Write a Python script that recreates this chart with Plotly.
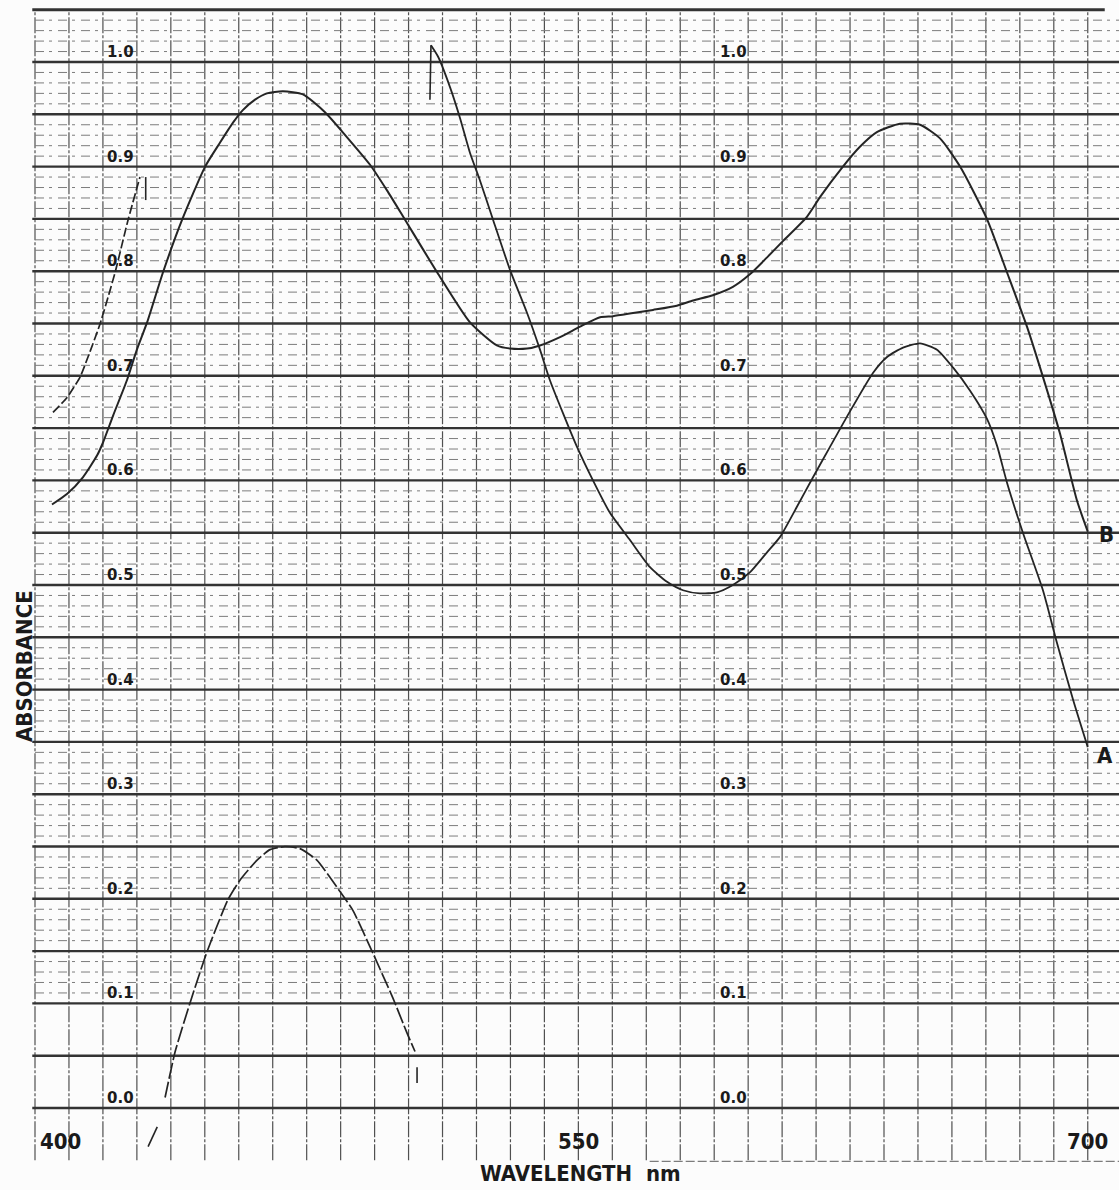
import plotly.graph_objects as go

# ---- recorded spectra (wavelength in nm, absorbance) ----
# Curve B
wl_b = [395.0, 399.4, 404.1, 408.3, 410.0, 413.0, 417.1, 420.0, 423.0, 427.7,
        433.3, 440.1, 444.5, 448.3, 451.2, 454.8, 458.3, 463.0, 468.9, 475.4,
        481.9, 488.6, 493.7, 499.0, 508.4, 518.1, 526.0, 529.9, 534.9, 538.7,
        544.6, 550.5, 556.4, 560.2, 566.1, 572.0, 579.0, 583.8, 589.6, 595.5,
        600.5, 605.5, 610.3, 617.3, 621.2, 627.9, 632.9, 637.9, 644.7, 650.6,
        656.5, 662.4, 670.3, 676.2, 682.1, 686.8, 691.8, 696.8, 700.0]
abs_b = [0.577, 0.587, 0.603, 0.624, 0.636, 0.662, 0.696, 0.725, 0.751, 0.799,
         0.849, 0.900, 0.923, 0.942, 0.954, 0.964, 0.970, 0.972, 0.969, 0.952,
         0.928, 0.902, 0.877, 0.849, 0.799, 0.751, 0.729, 0.726, 0.726, 0.729,
         0.737, 0.747, 0.756, 0.757, 0.760, 0.763, 0.767, 0.772, 0.777, 0.785,
         0.797, 0.813, 0.829, 0.852, 0.871, 0.900, 0.919, 0.933, 0.941, 0.940,
         0.927, 0.900, 0.850, 0.799, 0.747, 0.699, 0.645, 0.581, 0.551]

# Curve A, first part on the 0-1 range
wl_a_left = [395.3, 399.4, 403.3, 409.1, 413.6, 417.4, 420.9]
abs_a_left = [0.665, 0.679, 0.699, 0.749, 0.799, 0.849, 0.890]

# Curve A while off scale, written on the offset range (reading = A - 1.0)
wl_a_over = [428.3, 431.2, 435.6, 440.6, 446.8, 450.4, 455.4, 459.2, 463.6,
             468.0, 473.0, 479.8, 483.6, 489.5, 495.4, 499.5, 501.9]
abs_a_over = [0.010, 0.053, 0.100, 0.149, 0.199, 0.218, 0.237, 0.247, 0.250,
              0.248, 0.237, 0.207, 0.189, 0.148, 0.105, 0.072, 0.054]

# Curve A back on the 0-1 range
wl_a = [506.6, 508.7, 512.2, 515.1, 518.1, 521.0, 524.9, 529.9, 534.9, 538.7,
        541.6, 545.5, 549.6, 554.3, 559.3, 565.2, 571.1, 576.1, 580.8, 585.8,
        590.8, 595.5, 600.5, 605.5, 609.4, 614.4, 619.1, 624.1, 629.1, 636.8,
        640.9, 645.6, 650.6, 655.6, 660.3, 665.3, 670.3, 673.3, 676.2, 680.9,
        686.8, 690.9, 695.7, 700.0]
abs_a = [1.016, 1.005, 0.976, 0.947, 0.913, 0.887, 0.849, 0.801, 0.760, 0.725,
         0.696, 0.664, 0.632, 0.600, 0.569, 0.543, 0.517, 0.503, 0.495, 0.492,
         0.493, 0.500, 0.512, 0.531, 0.546, 0.575, 0.603, 0.632, 0.661, 0.703,
         0.718, 0.727, 0.731, 0.725, 0.708, 0.686, 0.659, 0.633, 0.598, 0.550,
         0.495, 0.445, 0.390, 0.345]

# short pen strokes made when the range switched
pen_marks = [
    ([422.6, 422.6], [0.890, 0.868]),
    ([423.3, 426.0], [-0.037, -0.018]),
    ([502.5, 502.5], [0.039, 0.024]),
    ([506.3, 506.6], [0.964, 1.016]),
]

# ---- chart paper ----
abs_labels = ["0.0", "0.1", "0.2", "0.3", "0.4", "0.5", "0.6", "0.7", "0.8", "0.9", "1.0"]
label_columns_nm = [410.6, 591.0]
wl_labels = ["400", "550", "700"]
wl_label_pos = [397.5, 550.0, 700.0]

WL_START, WL_END = 390.0, 700.0
PX_PER_NM = 3.396
PX_PER_ABS = 1046.0
W, H = 1119, 1190
X0_PX, Y0_PX = 35.0, 1108.0          # pixel position of 390 nm / 0.0 absorbance

x_range = [WL_START - X0_PX / PX_PER_NM, WL_START + (W - X0_PX) / PX_PER_NM]
y_range = [-(H - Y0_PX) / PX_PER_ABS, Y0_PX / PX_PER_ABS]

ink = "#242424"
grid_dark = "#333333"
grid_mid = "#505050"
grid_light = "#7c7c7c"

shapes = []
# vertical rulings every 10 nm
for k in range(32):
    xv = WL_START + 10 * k
    shapes.append(dict(type="line", xref="x", yref="y", x0=xv, x1=xv,
                       y0=-0.05, y1=1.05, layer="below",
                       line=dict(color=grid_mid, width=1.2, dash="16px,2px,3px,2px")))
# fine horizontal rulings every 0.01
for i in range(11, 105):
    if i % 5 == 0:
        continue
    yv = i / 100
    shapes.append(dict(type="line", xref="x", yref="y", x0=WL_START, x1=x_range[1],
                       y0=yv, y1=yv, layer="below",
                       line=dict(color=grid_light, width=1, dash="9px,5px,3px,6px")))
# heavy horizontal rulings every 0.05
for k in range(22):
    yv = k * 0.05
    x_end = x_range[1] if k < 21 else 705.0
    shapes.append(dict(type="line", xref="x", yref="y", x0=WL_START - 0.8, x1=x_end,
                       y0=yv, y1=yv, layer="below",
                       line=dict(color=grid_dark, width=2.4 if k < 21 else 3.0)))
# faint bottom edge of the paper
shapes.append(dict(type="line", xref="x", yref="y", x0=571.0, x1=x_range[1],
                   y0=-0.051, y1=-0.051, layer="below",
                   line=dict(color=grid_light, width=1.2, dash="9px,3px")))

fig = go.Figure()

fig.add_trace(go.Scatter(x=wl_b, y=abs_b, mode="lines", name="B",
                         line=dict(color=ink, width=2.0, shape="spline", smoothing=0.6)))
fig.add_trace(go.Scatter(x=wl_a_left, y=abs_a_left, mode="lines", name="A",
                         line=dict(color=ink, width=1.7, dash="9px,3px",
                                   shape="spline", smoothing=0.4)))
fig.add_trace(go.Scatter(x=wl_a_over, y=abs_a_over, mode="lines", name="A (offset)",
                         line=dict(color=ink, width=1.7, dash="16px,3px",
                                   shape="spline", smoothing=0.5)))
fig.add_trace(go.Scatter(x=wl_a, y=abs_a, mode="lines", name="A",
                         line=dict(color=ink, width=1.8, shape="spline", smoothing=0.6)))
for mx, my in pen_marks:
    fig.add_trace(go.Scatter(x=mx, y=my, mode="lines",
                             line=dict(color=ink, width=1.6)))

annotations = []
label_font = dict(family="DejaVu Sans, Verdana, sans-serif", size=15, color="#1a1a1a")
for col in label_columns_nm:
    for i, txt in enumerate(abs_labels):
        annotations.append(dict(x=col, y=i / 10, xref="x", yref="y", text="<b>%s</b>" % txt,
                                showarrow=False, xanchor="left", yanchor="middle",
                                yshift=10, font=label_font))

bold_font = dict(family="DejaVu Sans Condensed, Liberation Sans Narrow, Arial Narrow, sans-serif",
                 size=22, color="#1a1a1a")
for pos, txt in zip(wl_label_pos, wl_labels):
    annotations.append(dict(x=pos, y=-0.0325, xref="x", yref="y", text="<b>%s</b>" % txt,
                            showarrow=False, xanchor="center", yanchor="middle",
                            font=bold_font))
annotations.append(dict(x=550.6, y=-0.0630, xref="x", yref="y",
                        text="<b>WAVELENGTH  nm</b>", showarrow=False,
                        xanchor="center", yanchor="middle", font=bold_font))
annotations.append(dict(x=x_range[0] + 24 / PX_PER_NM, y=(Y0_PX - 666) / PX_PER_ABS,
                        xref="x", yref="y", text="<b>ABSORBANCE</b>", showarrow=False,
                        textangle=-90, xanchor="center", yanchor="middle", font=bold_font))
annotations.append(dict(x=wl_b[-1], y=abs_b[-1], xref="x", yref="y", text="<b>B</b>",
                        showarrow=False, xanchor="left", yanchor="middle", xshift=9,
                        yshift=-3, font=bold_font))
annotations.append(dict(x=wl_a[-1], y=abs_a[-1], xref="x", yref="y", text="<b>A</b>",
                        showarrow=False, xanchor="left", yanchor="middle", xshift=7,
                        yshift=-8, font=bold_font))

fig.update_layout(
    width=W, height=H,
    margin=dict(l=0, r=0, t=0, b=0),
    paper_bgcolor="#fcfcfc",
    plot_bgcolor="#fcfcfc",
    showlegend=False,
    shapes=shapes,
    annotations=annotations,
    xaxis=dict(range=x_range, visible=False, fixedrange=True),
    yaxis=dict(range=y_range, visible=False, fixedrange=True),
)

fig.write_html("out.html")
